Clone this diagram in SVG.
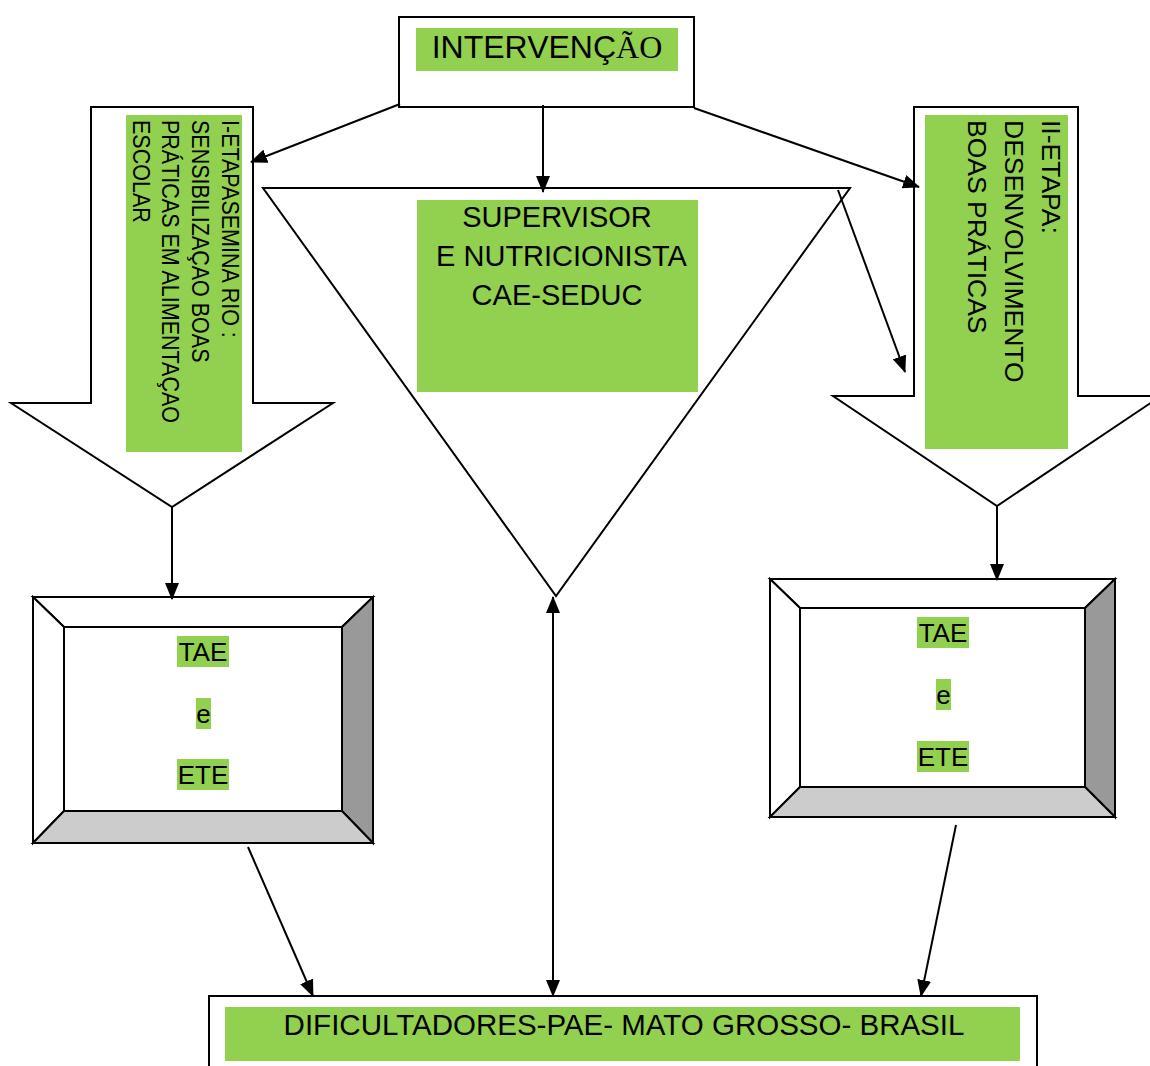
<svg xmlns="http://www.w3.org/2000/svg" width="1150" height="1066" viewBox="0 0 1150 1066">
  <style>
    .shape { fill: #ffffff; stroke: #000000; stroke-width: 2; }
    .hl { fill: #92d050; }
    .t { font-family: "Liberation Sans", Arial, sans-serif; fill: #000000; }
    .mid { text-anchor: middle; }
    .conn { stroke: #000000; stroke-width: 2; fill: none; }
    .bevel { stroke: #000000; stroke-width: 2; stroke-linejoin: miter; }
  </style>
  <defs>
    <marker id="arrow" viewBox="0 0 17 14" refX="16" refY="7" markerWidth="17" markerHeight="14" markerUnits="userSpaceOnUse" orient="auto-start-reverse">
      <path d="M0,0 L17,7 L0,14 z" fill="#000000"/>
    </marker>
  </defs>

  <rect width="1150" height="1066" fill="#ffffff"/>

  <!-- top box -->
  <g id="intervencao">
    <rect class="shape" x="399" y="17" width="295" height="90"/>
    <rect class="hl" x="416" y="28" width="262" height="43"/>
    <text class="t mid" x="547" y="58" font-size="32">INTERVENÇ<tspan font-family="'Liberation Serif', 'Times New Roman', serif">ÃO</tspan></text>
  </g>

  <!-- left block arrow: stage I -->
  <g id="etapa1">
    <polygon class="shape" points="91,107 253,107 253,403 333,403 172,507 11,403 91,403"/>
    <rect class="hl" x="126" y="115" width="116" height="337"/>
    <g transform="translate(222,120) rotate(90) scale(1,1.13)" class="t" font-size="21.5">
      <text x="0" y="0">I-ETAPASEMINA RIO :</text>
      <text x="0" y="26.2">SENSIBILIZAÇAO BOAS</text>
      <text x="0" y="52.7">PRÁTICAS EM ALIMENTAÇAO</text>
      <text x="0" y="79.2">ESCOLAR</text>
    </g>
  </g>

  <!-- right block arrow: stage II -->
  <g id="etapa2">
    <polygon class="shape" points="914,107 1078,107 1078,396 1161,396 997,506 833,396 914,396"/>
    <rect class="hl" x="925" y="115" width="143" height="334"/>
    <g transform="translate(1042,120) rotate(90)" class="t" font-size="26.5">
      <text x="0" y="0">II-ETAPA:</text>
      <text x="0" y="37">DESENVOLVIMENTO</text>
      <text x="0" y="74">BOAS PRÁTICAS</text>
    </g>
  </g>

  <!-- central inverted triangle -->
  <g id="supervisor">
    <polygon class="shape" points="263,188 850,188 556,596" stroke-width="1.6"/>
    <rect class="hl" x="417" y="200" width="281" height="192"/>
    <g class="t mid" font-size="29">
      <text x="557" y="227">SUPERVISOR</text>
      <text x="561.5" y="266">E NUTRICIONISTA</text>
      <text x="557" y="305">CAE-SEDUC</text>
    </g>
  </g>

  <!-- left bevel frame -->
  <g id="tae-ete-1">
    <polygon class="bevel" fill="#ffffff" points="33,597 373,597 342,627 64,627"/>
    <polygon class="bevel" fill="#ffffff" points="33,597 64,627 64,811 33,843"/>
    <polygon class="bevel" fill="#999999" points="373,597 373,843 342,811 342,627"/>
    <polygon class="bevel" fill="#cccccc" points="33,843 64,811 342,811 373,843"/>
    <rect class="bevel" fill="#ffffff" x="64" y="627" width="278" height="184"/>
    <rect class="hl" x="177" y="636" width="52" height="31"/>
    <rect class="hl" x="196" y="698" width="15" height="31"/>
    <rect class="hl" x="177" y="759" width="52" height="31"/>
    <g class="t mid" font-size="26">
      <text x="203" y="661">TAE</text>
      <text x="203.5" y="723">e</text>
      <text x="203" y="784">ETE</text>
    </g>
  </g>

  <!-- right bevel frame -->
  <g id="tae-ete-2">
    <polygon class="bevel" fill="#ffffff" points="770,579 1115,579 1085,608 800,608"/>
    <polygon class="bevel" fill="#ffffff" points="770,579 800,608 800,787 770,817"/>
    <polygon class="bevel" fill="#999999" points="1115,579 1115,817 1085,787 1085,608"/>
    <polygon class="bevel" fill="#cccccc" points="770,817 800,787 1085,787 1115,817"/>
    <rect class="bevel" fill="#ffffff" x="800" y="608" width="285" height="179"/>
    <rect class="hl" x="917" y="617" width="52" height="31"/>
    <rect class="hl" x="936" y="679" width="15" height="31"/>
    <rect class="hl" x="917" y="741" width="52" height="31"/>
    <g class="t mid" font-size="26">
      <text x="943" y="642">TAE</text>
      <text x="943.5" y="704">e</text>
      <text x="943" y="766">ETE</text>
    </g>
  </g>

  <!-- bottom box -->
  <g id="dificultadores">
    <rect class="shape" x="209" y="996" width="828" height="90"/>
    <rect class="hl" x="225" y="1007" width="795" height="54"/>
    <text class="t mid" x="624" y="1035" font-size="29.5">DIFICULTADORES-PAE- MATO GROSSO- BRASIL</text>
  </g>

  <!-- connectors -->
  <g id="connectors">
    <line class="conn" x1="400" y1="104" x2="251" y2="162" marker-end="url(#arrow)"/>
    <line class="conn" x1="543" y1="105" x2="543" y2="192" marker-end="url(#arrow)"/>
    <line class="conn" x1="694" y1="108" x2="919" y2="187" marker-end="url(#arrow)"/>
    <line class="conn" x1="838" y1="190" x2="905" y2="372" marker-end="url(#arrow)"/>
    <line class="conn" x1="172" y1="507" x2="172" y2="599" marker-end="url(#arrow)"/>
    <line class="conn" x1="997" y1="506" x2="997" y2="580" marker-end="url(#arrow)"/>
    <line class="conn" x1="553" y1="597" x2="553" y2="996" marker-start="url(#arrow)" marker-end="url(#arrow)"/>
    <line class="conn" x1="248" y1="847" x2="313" y2="996" marker-end="url(#arrow)"/>
    <line class="conn" x1="956" y1="825" x2="921" y2="996" marker-end="url(#arrow)"/>
  </g>
</svg>
